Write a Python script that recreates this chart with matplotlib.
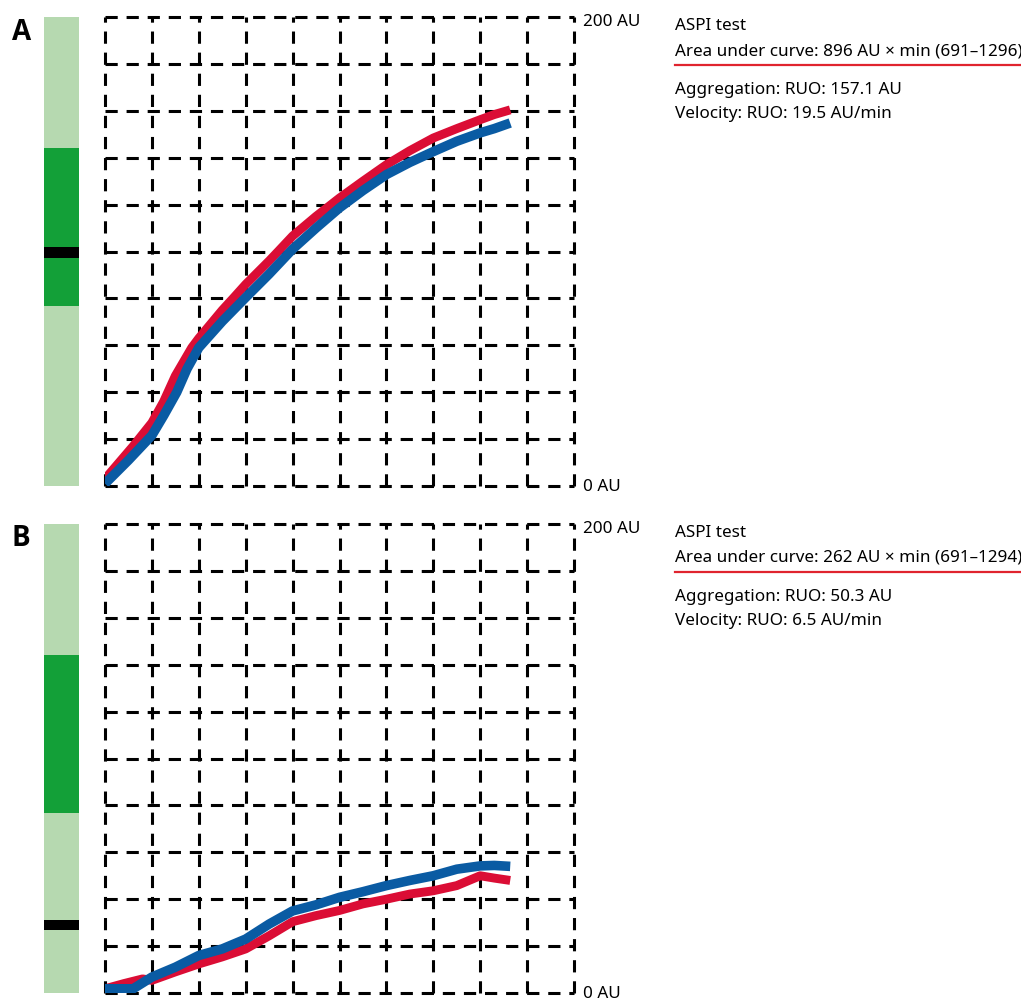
import matplotlib.pyplot as plt
import numpy as np

plt.rcParams['font.family'] = ['Noto Sans', 'DejaVu Sans']

# time axis in grid divisions (10 divisions across), aggregation in AU
t_a_red = [0, 0.3, 0.6, 1, 1.25, 1.5, 1.85, 2, 2.5, 2.73, 3, 3.5, 3.69, 4, 4.5, 5, 5.5, 6, 6.5, 7, 7.5, 8, 8.3, 8.64]
au_a_red = [3, 10, 17, 27, 36, 47, 59, 63, 75, 80, 86, 96, 100, 106.6, 115, 122.8, 130, 137, 143, 148.4, 152.4, 156.2, 158.4, 160.4]
t_a_blue = [0, 0.5, 1, 1.25, 1.53, 1.75, 2, 2.5, 3, 3.5, 4, 4.5, 5, 5.5, 6, 6.5, 7, 7.5, 8, 8.3, 8.64]
au_a_blue = [1, 11, 21.6, 30, 40, 50, 59, 70.2, 80.4, 90.4, 101, 110, 118.6, 126, 132.8, 138, 142.6, 147, 150.6, 152.4, 154.8]

t_b_red = [0, 0.4, 0.8, 1, 1.5, 2, 2.5, 3, 3.5, 4, 4.5, 5, 5.5, 6, 6.5, 7, 7.5, 8, 8.3, 8.64]
au_b_red = [1.8, 4, 6, 5.4, 9, 12.4, 15.4, 18.8, 24.4, 30.4, 33, 35.2, 38, 40, 42.2, 43.6, 45.8, 50, 49, 48]
t_b_blue = [0, 0.6, 1, 1.5, 2, 2.5, 3, 3.5, 4, 4.5, 5, 5.5, 6, 6.5, 7, 7.5, 8, 8.3, 8.64]
au_b_blue = [1.8, 1.8, 6.8, 11, 16, 18.8, 23, 29.4, 35, 37.6, 40.8, 43.2, 45.8, 48, 50, 52.8, 54.2, 54.4, 54]

# area under curve (AU x min): reference range and measured value
auc_ref = [691, 1296]
auc_values = [896, 262]
auc_ranges = ['(691\u20131296)', '(691\u20131294)']
aggregation = [157.1, 50.3]
velocity = [19.5, 6.5]
panel_labels = ['A', 'B']

RED = '#DB0D35'
BLUE = '#0A5BA3'
LIGHT = '#B6D9B0'
DARK = '#13A038'

W, H = 1021, 1003
fig = plt.figure(figsize=(W / 100, H / 100), dpi=100)

curves = [(t_a_red, au_a_red, t_a_blue, au_a_blue), (t_b_red, au_b_red, t_b_blue, au_b_blue)]
tops = [18, 525]
box_h = 469
fs = 12.3

for i in range(2):
    top = tops[i]
    bottom = top + box_h
    # main plot
    ax = fig.add_axes([105 / W, (H - bottom) / H, 469 / W, box_h / H])
    ax.set_xlim(0, 10)
    ax.set_ylim(0, 200)
    ax.axis('off')
    for x in range(11):
        ax.axvline(x, color='black', lw=2.2, linestyle=(0, (4, 2.9)), clip_on=False, zorder=1)
    for y in range(0, 201, 20):
        ax.axhline(y, color='black', lw=2.2, linestyle=(0, (4, 2.9)), clip_on=False, zorder=1)
    tr, yr, tb, yb = curves[i]
    ax.plot(tr, yr, color=RED, lw=6.4, solid_capstyle='butt', solid_joinstyle='round', zorder=3)
    ax.plot(tb, yb, color=BLUE, lw=6.9, solid_capstyle='butt', solid_joinstyle='round', zorder=4)
    ax.text(10.2, 198.5, '200 AU', fontsize=fs, ha='left', va='center')
    ax.text(10.2, 0, '0 AU', fontsize=fs, ha='left', va='center')

    # colour bar with reference range and marker
    bx = fig.add_axes([44 / W, (H - bottom) / H, 35 / W, box_h / H])
    bx.set_xlim(0, 1)
    bx.set_ylim(0, 1800)
    bx.axis('off')
    bx.bar(0.5, 1800, width=1, color=LIGHT)
    bx.bar(0.5, auc_ref[1] - auc_ref[0], bottom=auc_ref[0], width=1, color=DARK)
    bx.bar(0.5, 40, bottom=auc_values[i] - 20, width=1, color='black')

    fig.text(12 / W, 1 - (top + 14) / H, panel_labels[i], fontsize=20, fontweight='bold',
             family=['Open Sans', 'DejaVu Sans'], ha='left', va='center')

    # text block
    x0 = 675 / W
    fig.text(x0, 1 - (top + 12) / H, 'ASPI test', fontsize=fs, va='baseline')
    fig.text(x0, 1 - (top + 37) / H, f'Area under curve: {auc_values[i]} AU \u00d7 min {auc_ranges[i]}',
             fontsize=fs, va='baseline')
    fig.add_artist(plt.Line2D([x0, 1020 / W], [1 - (top + 48) / H] * 2, color='#E0242E', lw=1.6))
    fig.text(x0, 1 - (top + 76) / H, f'Aggregation: RUO: {aggregation[i]} AU', fontsize=fs, va='baseline')
    fig.text(x0, 1 - (top + 100) / H, f'Velocity: RUO: {velocity[i]} AU/min', fontsize=fs, va='baseline')

fig.savefig('out.png', dpi=100)
